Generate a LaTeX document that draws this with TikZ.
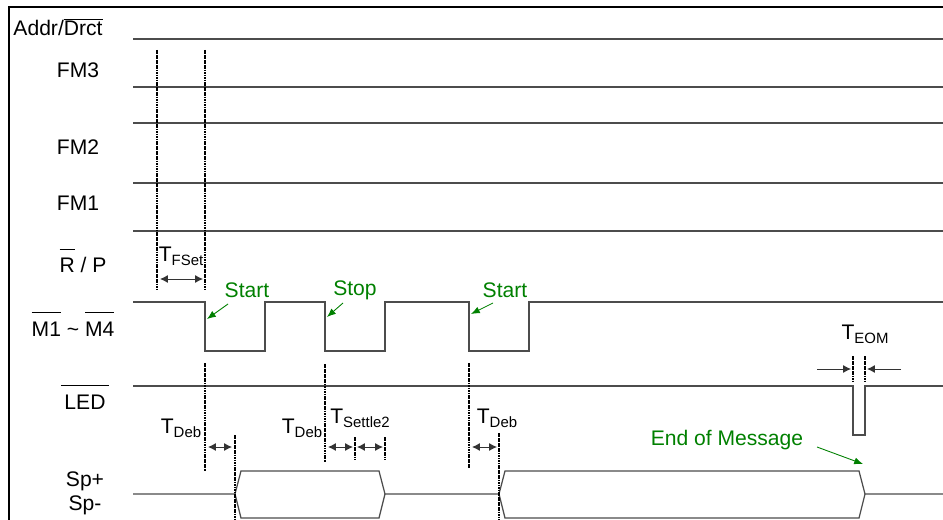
\documentclass[tikz,border=0pt]{standalone}
\usepackage{fontspec}
\setmainfont{Liberation Sans}
\usetikzlibrary{arrows.meta}
\tikzset{
    sig/.style={draw=black!70, line width=0.7pt},
    guide/.style={draw=black, line width=0.6pt, dash pattern=on 1pt off 0.4pt},
    span/.style={black!80, line width=0.5pt, {Latex[length=4.5pt,width=4.5pt]}-{Latex[length=4.5pt,width=4.5pt]}},
    pin/.style={black!80, line width=0.5pt, -{Latex[length=4.5pt,width=4.5pt]}},
    lbl/.style={inner sep=0pt, font=\fontsize{12}{14}\selectfont},
    note/.style={lbl, text=green!50!black},
    callout/.style={green!50!black, line width=0.5pt, -{Latex[length=5pt,width=4pt]}}
}
\newcommand{\tsub}[2]{#1\raisebox{-0.35ex}{\fontsize{8.5}{9}\selectfont #2}}
\newcommand{\ovl}[1]{$\overline{\mbox{#1}}$}
% overline set higher, as on the active-low pins
\newcommand{\ovlhi}[2][0pt]{$\overline{\mbox{\rule{0pt}{12pt}\kern#1#2\kern#1}}$}

\begin{document}
\begin{tikzpicture}[x=0.02cm, y=-0.02cm]
        \useasboundingbox (0,0) rectangle (943,520);
        % frame
        \draw[line width=0.8pt] (943,7) -- (9,7) -- (9,520);
        % signal names
        \node[lbl] (addr) at (58,27) {Addr/\ovl{Drct}};
        \node[lbl] (fm3) at (78,70) {FM3};
        \node[lbl] (fm2) at (78,147) {FM2};
        \node[lbl] (fm1) at (78,203) {FM1};
        \node[lbl, anchor=base] (rp) at (83,273) {\ovlhi{R} / P};
        \node[lbl, anchor=base] (mm) at (73,336) {\ovlhi{M1} \textasciitilde{} \ovlhi{M4}};
        \node[lbl, anchor=base] (led) at (85,409) {\ovlhi[2pt]{LED}};
        \node[lbl] (spp) at (85,481) {Sp+};
        \node[lbl] (spm) at (85,505) {Sp-};
        % flat lines
        \foreach \y in {39,87,123,183,231}
                \draw[sig] (133,\y) -- (943,\y);
        % M1 ~ M4
        \draw[sig] (133,302) -- (205,302) -- (205,351) -- (265,351) -- (265,302)
                -- (325,302) -- (325,351) -- (385,351) -- (385,302)
                -- (469,302) -- (469,351) -- (529,351) -- (529,302) -- (943,302);
        % LED
        \draw[sig] (133,386) -- (853,386) -- (853,435) -- (865,435) -- (865,386) -- (943,386);
        % Sp+ / Sp-
        \draw[sig] (133,494) -- (235,494) -- (241,471) -- (379,471) -- (385,494)
                -- (499,494) -- (505,471) -- (859,471) -- (865,494) -- (943,494);
        \draw[sig] (235,494) -- (241,518) -- (379,518) -- (385,494);
        \draw[sig] (499,494) -- (505,518) -- (859,518) -- (865,494);
        % guides
        \draw[guide] (157,50) -- (157,291);
        \draw[guide] (205,50) -- (205,291);
        \draw[guide] (205,363) -- (205,471);
        \draw[guide] (235,435) -- (235,520);
        \draw[guide] (325,364) -- (325,462);
        \draw[guide] (355,437) -- (355,460);
        \draw[guide] (385,437) -- (385,460);
        \draw[guide] (469,363) -- (469,468);
        \draw[guide] (499,433) -- (499,520);
        \draw[guide] (853,356) -- (853,382);
        \draw[guide] (865,356) -- (865,382);
        % timings
        \node[lbl] (tfset) at (181,256) {\tsub{T}{FSet}};
        \draw[span] (160,279) -- (203,279);
        \node[lbl] (tdeb1) at (181,428) {\tsub{T}{Deb}};
        \draw[span] (208,447) -- (232,447);
        \node[lbl] (tdeb2) at (302,428) {\tsub{T}{Deb}};
        \node[lbl] (tset) at (360,418) {\tsub{T}{Settle2}};
        \draw[span] (328,447) -- (353,447);
        \draw[span] (357,447) -- (383,447);
        \node[lbl] (tdeb3) at (497,418) {\tsub{T}{Deb}};
        \draw[span] (472,447) -- (497,447);
        \node[lbl] (teom) at (865,334) {\tsub{T}{EOM}};
        \draw[pin] (817,369) -- (851,369);
        \draw[pin] (901,369) -- (867,369);
        % events
        \node[note] (start1) at (247,290) {Start};
        \draw[callout] (228,304) -- (207,319);
        \node[note] (stop) at (355,290) {Stop};
        \draw[callout] (343,303) -- (327,317);
        \node[note] (start2) at (505,290) {Start};
        \draw[callout] (493,303) -- (471,314);
        \node[note] (eom) at (727,440) {End of Message};
        \draw[callout] (817,447) -- (863,464);
\end{tikzpicture}
\end{document}
